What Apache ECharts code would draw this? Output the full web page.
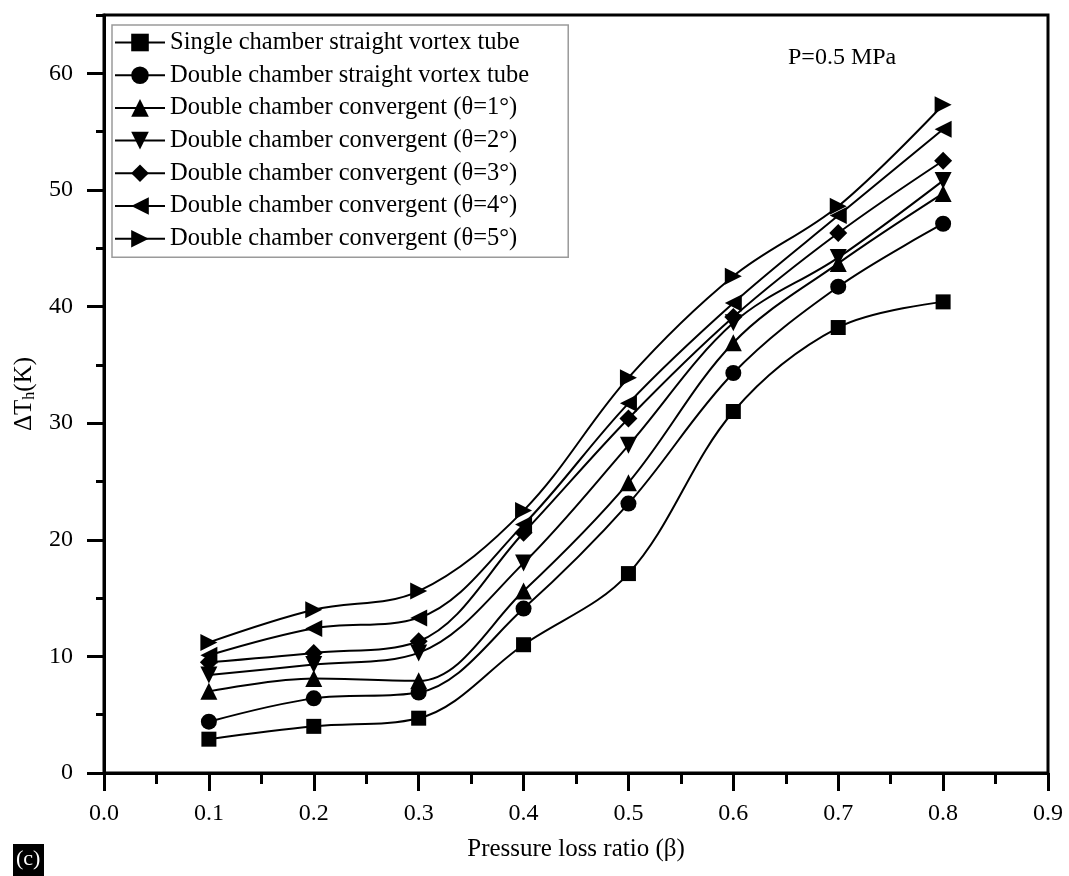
<!DOCTYPE html>
<html>
<head>
<meta charset="utf-8">
<script src="https://cdn.jsdelivr.net/npm/echarts@6/dist/echarts.min.js"></script>
<style>
html,body{margin:0;padding:0;background:#fff;}
#chart{width:1069px;height:876px;}
</style>
</head>
<body>
<div id="chart"></div>
<script>
// ---- data ----
const betaValues = [0.1, 0.2, 0.3, 0.4, 0.5, 0.6, 0.7, 0.8];
const singleStraight = [2.9, 4.0, 4.7, 11.0, 17.1, 31.0, 38.2, 40.4];
const doubleStraight = [4.4, 6.4, 6.9, 14.1, 23.1, 34.3, 41.7, 47.1];
const convTheta1 = [7.0, 8.1, 7.9, 15.6, 24.9, 36.9, 43.7, 49.7];
const convTheta2 = [8.4, 9.3, 10.3, 18.0, 28.1, 38.6, 44.2, 50.8];
const convTheta3 = [9.5, 10.3, 11.3, 20.6, 30.4, 39.1, 46.3, 52.5];
const convTheta4 = [10.1, 12.4, 13.3, 21.3, 31.7, 40.3, 47.8, 55.2];
const convTheta5 = [11.2, 14.0, 15.6, 22.5, 33.9, 42.6, 48.6, 57.3];
const seriesNames = [
  'Single chamber straight vortex tube',
  'Double chamber straight vortex tube',
  'Double chamber convergent (θ=1°)',
  'Double chamber convergent (θ=2°)',
  'Double chamber convergent (θ=3°)',
  'Double chamber convergent (θ=4°)',
  'Double chamber convergent (θ=5°)'
];
const seriesValues = [singleStraight, doubleStraight, convTheta1, convTheta2, convTheta3, convTheta4, convTheta5];
const xTickLabels = ['0.0','0.1','0.2','0.3','0.4','0.5','0.6','0.7','0.8','0.9'];

// ---- styling ----
const FONT = '"Liberation Serif", "Times New Roman", serif';
const symbols = [
  {symbol: 'rect', size: 15, rotate: 0},
  {symbol: 'circle', size: 16, rotate: 0},
  {symbol: 'triangle', size: 17, rotate: 0},
  {symbol: 'triangle', size: 17, rotate: 180},
  {symbol: 'diamond', size: 18, rotate: 0},
  {symbol: 'triangle', size: 17, rotate: 90},
  {symbol: 'triangle', size: 17, rotate: -90}
];

const series = seriesNames.map((name, i) => ({
  name: name,
  type: 'line',
  xAxisIndex: 0,
  yAxisIndex: 0,
  smooth: 0.35,
  symbol: symbols[i].symbol,
  symbolSize: symbols[i].size,
  symbolRotate: symbols[i].rotate,
  showAllSymbol: true,
  lineStyle: {color: '#000', width: 2},
  itemStyle: {color: '#000', borderWidth: 0},
  emphasis: {disabled: true},
  data: betaValues.map((b, j) => [b, seriesValues[i][j]])
}));

const chart = echarts.init(document.getElementById('chart'), null, {renderer: 'canvas'});
chart.setOption({
  animation: false,
  backgroundColor: '#fff',
  grid: {left: 104, right: 21, top: 15, bottom: 103, show: true, borderColor: '#000', borderWidth: 3, backgroundColor: 'transparent'},
  legend: {
    orient: 'vertical',
    left: 112,
    top: 25,
    padding: [5, 39, 6, 2],
    itemWidth: 50,
    itemHeight: 22,
    itemGap: 7.7,
    borderColor: '#9a9a9a',
    borderWidth: 1.5,
    symbolRotate: 'inherit',
    data: seriesNames,
    textStyle: {fontFamily: FONT, fontSize: 24.5, color: '#000', lineHeight: 24}
  },
  xAxis: [
    {
      type: 'value', position: 'bottom', min: 0, max: 0.9, interval: 0.1,
      name: 'Pressure loss ratio (β)', nameLocation: 'middle', nameGap: 64,
      nameTextStyle: {fontFamily: FONT, fontSize: 25, color: '#000'},
      axisLine: {show: true, onZero: false, lineStyle: {color: '#000', width: 3}},
      axisTick: {show: true, inside: false, length: 18, lineStyle: {color: '#000', width: 3}},
      axisLabel: {margin: 29, fontFamily: FONT, fontSize: 24, color: '#000',
        formatter: (v) => xTickLabels[Math.round(v * 10)]},
      splitLine: {show: false}
    },
    {
      type: 'value', position: 'bottom', min: 0, max: 0.9, interval: 0.05,
      axisLine: {show: false},
      axisTick: {show: true, inside: false, length: 11, lineStyle: {color: '#000', width: 3}},
      axisLabel: {show: false},
      splitLine: {show: false}
    }
  ],
  yAxis: [
    {
      type: 'value', position: 'left', min: 0, max: 65, interval: 10,
      name: '{a|ΔT}{b|h}{a|(K)}', nameLocation: 'middle', nameGap: 62, nameRotate: 90,
      nameTextStyle: {fontFamily: FONT, fontSize: 25, color: '#000',
        rich: {
          a: {fontFamily: FONT, fontSize: 25, color: '#000', lineHeight: 28},
          b: {fontFamily: FONT, fontSize: 16, color: '#000', lineHeight: 28, padding: [11, 0, 0, 0]}
        }},
      axisLine: {show: true, onZero: false, lineStyle: {color: '#000', width: 3}},
      axisTick: {show: true, inside: false, length: 17, lineStyle: {color: '#000', width: 3}},
      axisLabel: {margin: 31, fontFamily: FONT, fontSize: 24, color: '#000', showMaxLabel: false},
      splitLine: {show: false}
    },
    {
      type: 'value', position: 'left', min: 0, max: 65, interval: 5,
      axisLine: {show: false},
      axisTick: {show: true, inside: false, length: 8, lineStyle: {color: '#000', width: 3}},
      axisLabel: {show: false},
      splitLine: {show: false}
    }
  ],
  graphic: [
    {type: 'text', left: 788, top: 46, style: {text: 'P=0.5 MPa', font: '24px ' + FONT, fill: '#000'}},
    {type: 'rect', left: 13, top: 844, shape: {width: 31, height: 32}, style: {fill: '#000'}},
    {type: 'text', left: 16, top: 848, style: {text: '(c)', font: '22px ' + FONT, fill: '#fff'}}
  ],
  series: series
});
</script>
</body>
</html>
